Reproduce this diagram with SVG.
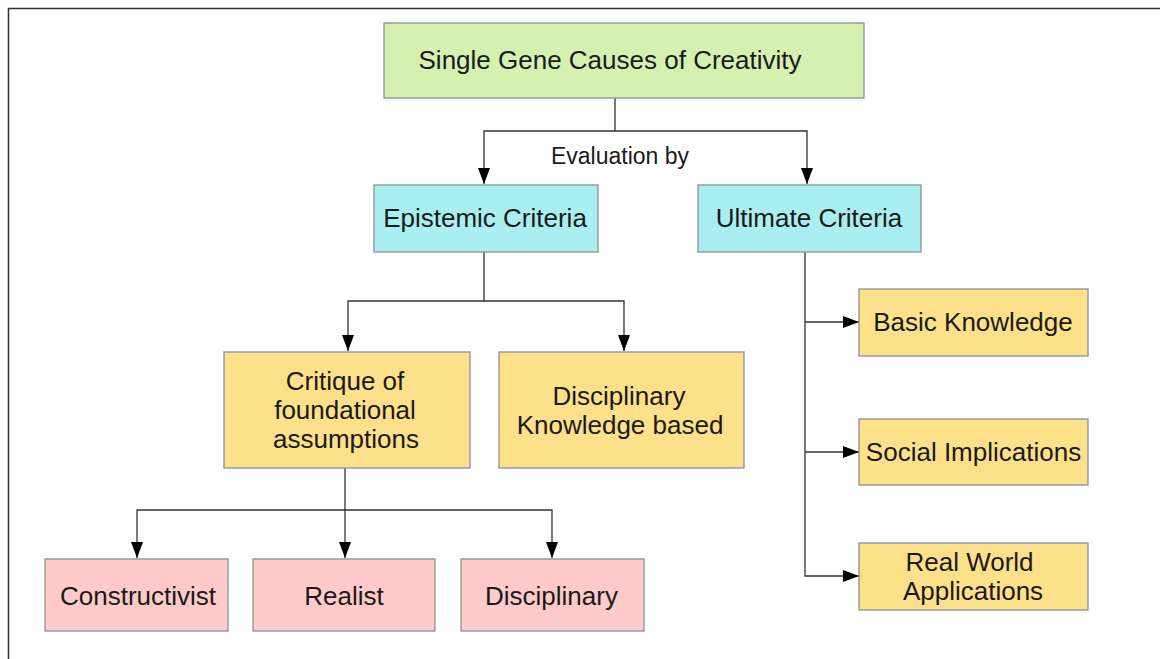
<svg xmlns="http://www.w3.org/2000/svg" width="1160" height="659" viewBox="0 0 1160 659">
<defs>
<style>
.box{stroke:#8a9098;stroke-width:1.3}
.green{fill:#d6f0b2}
.cyan{fill:#a9eef0}
.yellow{fill:#fde08a}
.pink{fill:#ffcaca}
.t{font-family:"Liberation Sans",Arial,sans-serif;font-size:26px;fill:#1a1a1a;text-anchor:middle;dominant-baseline:central}
.lbl{font-family:"Liberation Sans",Arial,sans-serif;font-size:23px;fill:#1a1a1a;text-anchor:middle;dominant-baseline:central}
.c{fill:none;stroke:#333;stroke-width:1.3}
</style>
<marker id="ah" viewBox="0 0 16 12" refX="16" refY="6" markerWidth="16" markerHeight="12" markerUnits="userSpaceOnUse" orient="auto">
<path d="M0,0 L16,6 L0,12 Z" fill="#000"/>
</marker>
</defs>
<rect x="0" y="0" width="1160" height="659" fill="#fff"/>
<rect x="8.5" y="8.5" width="1200" height="700" fill="none" stroke="#333" stroke-width="1.5"/>

<g id="connectors">
<path class="c" d="M615,98 V131 H484 V184" marker-end="url(#ah)"/>
<path class="c" d="M615,131 H807 V184" marker-end="url(#ah)"/>
<path class="c" d="M484,252 V301 H348 V351" marker-end="url(#ah)"/>
<path class="c" d="M484,301 H624 V351" marker-end="url(#ah)"/>
<path class="c" d="M345,468 V510 H137 V558" marker-end="url(#ah)"/>
<path class="c" d="M345,510 V558" marker-end="url(#ah)"/>
<path class="c" d="M345,510 H552 V558" marker-end="url(#ah)"/>
<path class="c" d="M805,252 V576 H859" marker-end="url(#ah)"/>
<path class="c" d="M805,322 H859" marker-end="url(#ah)"/>
<path class="c" d="M805,452 H859" marker-end="url(#ah)"/>
<text class="lbl" x="620" y="155.5">Evaluation by</text>
</g>

<g id="single-gene">
<rect class="box green" x="384" y="23" width="480" height="75"/>
<text class="t" x="610" y="60">Single Gene Causes of Creativity</text>
</g>
<g id="epistemic">
<rect class="box cyan" x="374" y="185" width="224" height="67"/>
<text class="t" x="485" y="218">Epistemic Criteria</text>
</g>
<g id="ultimate">
<rect class="box cyan" x="698" y="185" width="223" height="67"/>
<text class="t" x="809" y="218">Ultimate Criteria</text>
</g>
<g id="critique">
<rect class="box yellow" x="224" y="352" width="246" height="116"/>
<text class="t" x="345" y="381">Critique of</text>
<text class="t" x="345" y="410">foundational</text>
<text class="t" x="346" y="439">assumptions</text>
</g>
<g id="disciplinary-knowledge">
<rect class="box yellow" x="499" y="352" width="245" height="116"/>
<text class="t" x="619" y="396">Disciplinary</text>
<text class="t" x="620" y="425">Knowledge based</text>
</g>
<g id="basic-knowledge">
<rect class="box yellow" x="859" y="289" width="229" height="67"/>
<text class="t" x="973" y="322">Basic Knowledge</text>
</g>
<g id="social-implications">
<rect class="box yellow" x="859" y="419" width="229" height="66"/>
<text class="t" x="973.5" y="452">Social Implications</text>
</g>
<g id="real-world">
<rect class="box yellow" x="859" y="543" width="229" height="67"/>
<text class="t" x="969.5" y="562">Real World</text>
<text class="t" x="973" y="591">Applications</text>
</g>
<g id="constructivist">
<rect class="box pink" x="45" y="559" width="183" height="72"/>
<text class="t" x="138" y="596">Constructivist</text>
</g>
<g id="realist">
<rect class="box pink" x="253" y="559" width="182" height="72"/>
<text class="t" x="344" y="596">Realist</text>
</g>
<g id="disciplinary">
<rect class="box pink" x="461" y="559" width="183" height="72"/>
<text class="t" x="551.5" y="596">Disciplinary</text>
</g>
</svg>
